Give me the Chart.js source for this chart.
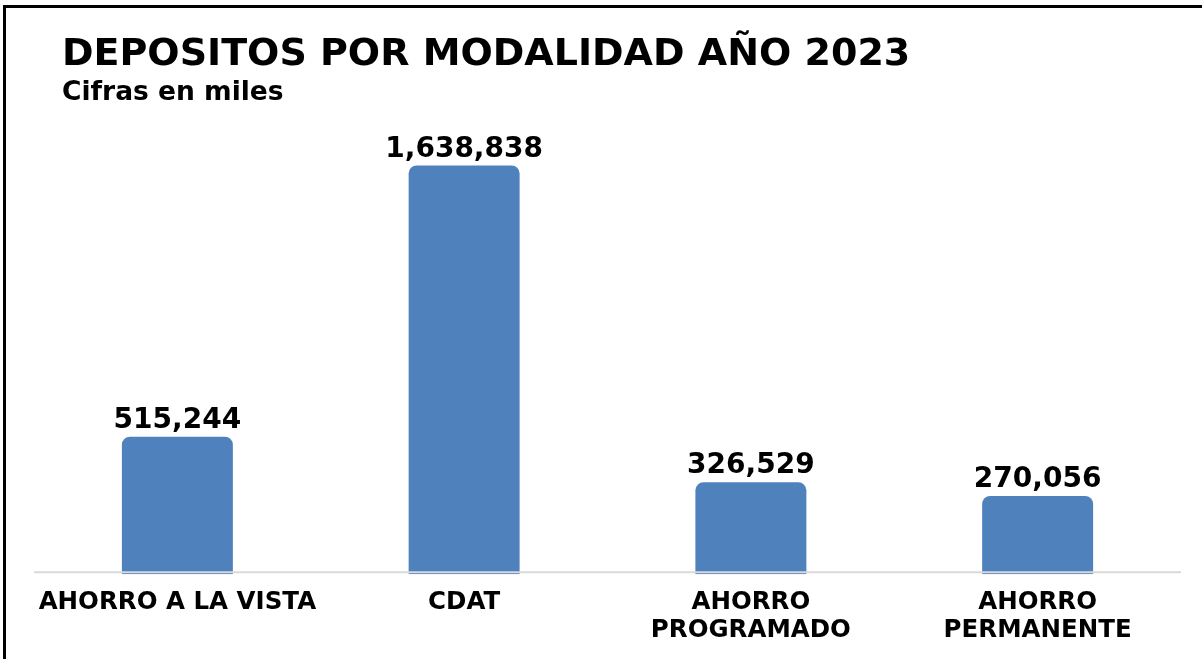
<!DOCTYPE html>
<html>
<head>
<meta charset="utf-8">
<script src="https://cdn.jsdelivr.net/npm/chart.js@4/dist/chart.umd.min.js"></script>
<style>
  html, body { margin: 0; padding: 0; background: #fff; }
  body { width: 1202px; height: 659px; position: relative; overflow: hidden; font-family: "DejaVu Sans", Verdana, sans-serif; }
  .frame { position: absolute; left: 3px; top: 5px; width: 1300px; height: 800px; border-left: 3px solid #000; border-top: 3px solid #000; }
  .title { position: absolute; left: 62px; top: 33px; font-size: 38px; font-weight: bold; line-height: 1; color: #000; white-space: nowrap; }
  .subtitle { position: absolute; left: 62px; top: 78px; font-size: 26.5px; font-weight: bold; line-height: 1; color: #000; white-space: nowrap; }
  #chartBox { position: absolute; left: 0; top: 0; width: 1202px; height: 659px; }
</style>
</head>
<body>
<div class="frame"></div>
<div id="chartBox"><canvas id="depChart"></canvas></div>
<div class="title">DEPOSITOS POR MODALIDAD AÑO 2023</div>
<div class="subtitle">Cifras en miles</div>

<script>
// data (thousands)
const categories = ["AHORRO A LA VISTA", "CDAT", ["AHORRO", "PROGRAMADO"], ["AHORRO", "PERMANENTE"]];
const depositos = [515244, 1638838, 326529, 270056];

// value axis range (original axis doesn't start at zero)
const yMin = -54000;
const yMax = 1786000;

const barBlue = "#4F81BD";

// value labels on top of each bar
const valueLabels = {
  id: "valueLabels",
  afterDatasetsDraw(chart) {
    const ctx = chart.ctx;
    const meta = chart.getDatasetMeta(0);
    ctx.save();
    ctx.font = "bold 28px 'DejaVu Sans'";
    ctx.fillStyle = "#000";
    ctx.textAlign = "center";
    ctx.textBaseline = "alphabetic";
    meta.data.forEach((bar, i) => {
      ctx.fillText(depositos[i].toLocaleString("en-US"), bar.x, bar.y - 9);
    });
    ctx.restore();
  }
};

// light grey baseline drawn over the bars
const baseLine = {
  id: "baseLine",
  afterDatasetsDraw(chart) {
    const { ctx, chartArea } = chart;
    ctx.save();
    ctx.strokeStyle = "#d9d9d9";
    ctx.lineWidth = 2;
    ctx.beginPath();
    ctx.moveTo(chartArea.left, chartArea.bottom - 2);
    ctx.lineTo(chartArea.right, chartArea.bottom - 2);
    ctx.stroke();
    ctx.restore();
  }
};

new Chart(document.getElementById("depChart"), {
  type: "bar",
  data: {
    labels: categories,
    datasets: [{
      data: depositos,
      base: yMin,
      backgroundColor: barBlue,
      borderRadius: 8,
      borderSkipped: "start",
      categoryPercentage: 1,
      barPercentage: 0.387
    }]
  },
  options: {
    responsive: true,
    maintainAspectRatio: false,
    animation: false,
    layout: {
      padding: { left: 34, right: 21, top: 130, bottom: 0 }
    },
    plugins: {
      legend: { display: false },
      tooltip: { enabled: false }
    },
    scales: {
      x: {
        grid: { display: false, drawTicks: false },
        border: { display: false },
        ticks: {
          color: "#000",
          padding: 14,
          maxRotation: 0,
          autoSkip: false,
          font: { family: "'DejaVu Sans'", size: 24.5, weight: "bold", lineHeight: 1.16 }
        }
      },
      y: {
        display: false,
        min: yMin,
        max: yMax
      }
    }
  },
  plugins: [valueLabels, baseLine]
});
</script>
</body>
</html>
